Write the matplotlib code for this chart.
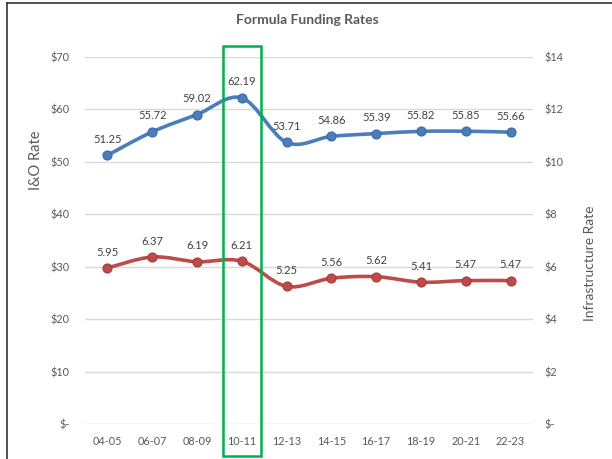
import matplotlib
matplotlib.use('Agg')
import matplotlib.pyplot as plt
from matplotlib.path import Path
from matplotlib.patches import PathPatch, Rectangle
from matplotlib.ticker import FuncFormatter
import matplotlib.lines as mlines

# Funding rates by biennium
years = ['04-05', '06-07', '08-09', '10-11', '12-13', '14-15', '16-17', '18-19', '20-21', '22-23']
io_rate = [51.25, 55.72, 59.02, 62.19, 53.71, 54.86, 55.39, 55.82, 55.85, 55.66]
infra_rate = [5.95, 6.37, 6.19, 6.21, 5.25, 5.56, 5.62, 5.41, 5.47, 5.47]
highlight = '10-11'

plt.rcParams['font.family'] = ['Lato', 'DejaVu Sans']

blue = '#4A7EBB'
red = '#BE4B48'
text_gray = '#595959'
grid_gray = '#D9D9D9'


def smooth_path(xs, ys):
    # Excel-style smoothed line: cubic bezier segments through every point
    verts = [(xs[0], ys[0])]
    codes = [Path.MOVETO]
    n = len(xs)
    for i in range(n - 1):
        x0, y0 = (xs[i - 1], ys[i - 1]) if i > 0 else (xs[i], ys[i])
        x1, y1 = xs[i], ys[i]
        x2, y2 = xs[i + 1], ys[i + 1]
        x3, y3 = (xs[i + 2], ys[i + 2]) if i + 2 < n else (x2, y2)
        c1 = (x1 + (x2 - x0) / 6, y1 + (y2 - y0) / 6)
        c2 = (x2 - (x3 - x1) / 6, y2 - (y3 - y1) / 6)
        verts += [c1, c2, (x2, y2)]
        codes += [Path.CURVE4] * 3
    return Path(verts, codes)


fig = plt.figure(figsize=(6.12, 4.59), dpi=100)
ax = fig.add_axes([0.1389, 0.0763, 0.7320, 0.7995])
ax2 = ax.twinx()

xs = list(range(len(years)))

for a, vals, color, edge, ymax, step in [(ax, io_rate, blue, '#3B6AA6', 70, 10),
                                         (ax2, infra_rate, red, '#A33C3A', 14, 2)]:
    a.add_patch(PathPatch(smooth_path(xs, vals), facecolor='none', edgecolor=color,
                          linewidth=2.6, capstyle='round', joinstyle='round', zorder=3))
    a.plot(xs, vals, linestyle='none', marker='o', markersize=6.5,
           markerfacecolor=color, markeredgecolor=edge, markeredgewidth=0.8, zorder=4)
    for x, v in zip(xs, vals):
        a.annotate(f'{v:.2f}', (x, v), xytext=(0, 11.5), textcoords='offset points',
                   ha='center', va='center', fontsize=8, color='#404040', zorder=5)
    a.set_ylim(0, ymax)
    a.set_yticks(range(0, ymax + 1, step))
    a.yaxis.set_major_formatter(FuncFormatter(lambda v, p: '$-' if v == 0 else f'${v:.0f}'))
    a.tick_params(axis='y', length=0, labelsize=7.8, labelcolor=text_gray)

ax.set_xlim(-0.5, len(years) - 0.5)
ax.set_xticks(xs)
ax.set_xticklabels(years)
ax.tick_params(axis='x', length=0, labelsize=7.8, labelcolor=text_gray, pad=9)
ax.tick_params(axis='y', pad=11)
ax2.tick_params(axis='y', pad=8)
ax.yaxis.grid(True, color=grid_gray, linewidth=1)
ax.set_axisbelow(True)
for a in (ax, ax2):
    for s in a.spines.values():
        s.set_visible(False)

# Title and axis titles
fig.text(0.503, 0.956, 'Formula Funding Rates', ha='center', va='center',
         fontsize=10, fontweight='bold', color=text_gray)
fig.text(0.059, 0.65, 'I&O Rate', rotation=90, ha='center', va='center',
         fontsize=10.5, color=text_gray)
fig.text(0.964, 0.427, 'Infrastructure Rate', rotation=90, ha='center', va='center',
         fontsize=10, color=text_gray)

# Box around the 10-11 biennium
hx = years.index(highlight)
x0 = ax.transData.transform((hx - 0.43, 0))[0] / fig.bbox.width
x1 = ax.transData.transform((hx + 0.43, 0))[0] / fig.bbox.width
fig.patches.append(Rectangle((x0, 0.006), x1 - x0, 0.894, transform=fig.transFigure,
                             fill=False, edgecolor='#00B050', linewidth=1.8, zorder=10))

# Outer frame (top and left edges only)
fig.add_artist(mlines.Line2D([0.0115, 0.0115], [0, 0.994], transform=fig.transFigure,
                             color='#333333', linewidth=1.2))
fig.add_artist(mlines.Line2D([0.0115, 1], [0.994, 0.994], transform=fig.transFigure,
                             color='#333333', linewidth=1.2))

fig.savefig('out.png', dpi=100)
